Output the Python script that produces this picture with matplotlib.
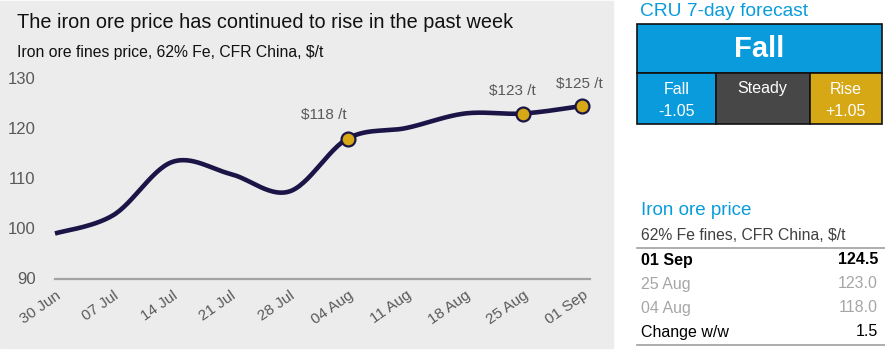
import numpy as np
import matplotlib
matplotlib.use("Agg")
import matplotlib.pyplot as plt
from matplotlib.patches import Rectangle
from matplotlib.lines import Line2D

plt.rcParams['font.family'] = ['Liberation Sans', 'DejaVu Sans']

# ---------------- data ----------------
dates = ["30 Jun", "07 Jul", "14 Jul", "21 Jul", "28 Jul",
         "04 Aug", "11 Aug", "18 Aug", "25 Aug", "01 Sep"]
prices = [99.0, 102.7, 113.3, 110.9, 107.4, 118.0, 120.1, 123.0, 123.0, 124.5]
marked_idx = [5, 8, 9]
marked_labels = ["$118 /t", "$123 /t", "$125 /t"]
yticks = [90, 100, 110, 120, 130]

forecast_title = "CRU 7-day forecast"
forecast_main = "Fall"
forecast_cells = [("Fall", "-1.05"), ("Steady", ""), ("Rise", "+1.05")]

table_title = "Iron ore price"
table_sub = "62% Fe fines, CFR China, $/t"
table_rows = [("01 Sep", "124.5"), ("25 Aug", "123.0"),
              ("04 Aug", "118.0"), ("Change w/w", "1.5")]

# ---------------- figure ----------------
W, H = 885, 356
fig = plt.figure(figsize=(W / 100, H / 100), dpi=100)


def fx(x):
    return x / W


def fy(y):
    return 1 - y / H


NAVY = "#1b1547"
GOLD = "#d6a815"
BLUE = "#0a9bdc"
DGRAY = "#474747"
TXT = "#595959"

# chart panel
fig.patches.append(Rectangle((0, fy(348)), fx(613), fy(1) - fy(348),
                             transform=fig.transFigure, color="#ececec", zorder=-10))

fig.text(fx(17), fy(22), "The iron ore price has continued to rise in the past week",
         fontsize=14.3, color="#111111", va="center", ha="left")
fig.text(fx(17), fy(52), "Iron ore fines price, 62% Fe, CFR China, $/t",
         fontsize=11.3, color="#111111", va="center", ha="left")

ax = fig.add_axes([fx(55), fy(278.5), fx(582) - fx(55), fy(78.5) - fy(278.5)])
ax.set_facecolor("none")
ax.set_xlim(0, len(dates) - 1)
ax.set_ylim(90, 130)
for s in ax.spines.values():
    s.set_visible(False)

# smooth curve (Catmull-Rom / Bezier like spreadsheet smoothing)
xs = np.arange(len(prices), dtype=float)
ys = np.array(prices, dtype=float)
P = np.column_stack([xs, ys])
Pp = np.vstack([P[0], P, P[-1]])
curve = []
t = np.linspace(0, 1, 30)
for i in range(len(P) - 1):
    p0, p1, p2, p3 = Pp[i], Pp[i + 1], Pp[i + 2], Pp[i + 3]
    c1 = p1 + (p2 - p0) / 6
    c2 = p2 - (p3 - p1) / 6
    seg = ((1 - t) ** 3)[:, None] * p1 + (3 * (1 - t) ** 2 * t)[:, None] * c1 \
        + (3 * (1 - t) * t ** 2)[:, None] * c2 + (t ** 3)[:, None] * p2
    curve.append(seg)
curve = np.vstack(curve)
ax.plot(curve[:, 0], curve[:, 1], color=NAVY, lw=3.3, solid_capstyle="butt",
        clip_on=False, zorder=3)

ax.plot(xs[marked_idx], ys[marked_idx], "o", ms=10, mfc=GOLD, mec=NAVY, mew=1.6,
        zorder=4, clip_on=False)
offsets = [(-17, 12), (-8, 11), (-2, 11)]
for i, lab, off in zip(marked_idx, marked_labels, offsets):
    ax.annotate(lab, (xs[i], ys[i]), xytext=off, textcoords="offset points",
                ha="center", va="bottom", fontsize=11, color=TXT)

ax.axhline(90, xmin=0, xmax=1.015, color="#a3a3a3", lw=1.6, clip_on=False, zorder=2)

ax.set_yticks(yticks)
ax.set_yticklabels([str(v) for v in yticks], fontsize=12, color=TXT)
ax.set_xticks(xs)
ax.set_xticklabels(dates, fontsize=11, color=TXT, rotation=35, ha="right",
                   rotation_mode="anchor")
ax.tick_params(axis="both", length=0)
ax.tick_params(axis="y", pad=14)
ax.tick_params(axis="x", pad=7)

# ---------------- forecast box ----------------
fig.text(fx(640), fy(12), forecast_title, fontsize=13.8, color=BLUE, va="center", ha="left")
bx0, bx1 = 637, 882
by0, bmid, by1 = 24, 73, 124
cx = [637, 715.5, 809.5, 882]
cell_colors = [BLUE, DGRAY, GOLD]
fig.patches.append(Rectangle((fx(bx0), fy(bmid)), fx(bx1) - fx(bx0), fy(by0) - fy(bmid),
                             transform=fig.transFigure, facecolor=BLUE,
                             edgecolor="#111111", lw=1.2, zorder=1))
fig.text(fx((bx0 + bx1) / 2), fy(49), forecast_main, fontsize=21, fontweight="bold",
         color="white", ha="center", va="center")
for j, (lab, val) in enumerate(forecast_cells):
    fig.patches.append(Rectangle((fx(cx[j]), fy(by1)), fx(cx[j + 1]) - fx(cx[j]),
                                 fy(bmid) - fy(by1), transform=fig.transFigure,
                                 facecolor=cell_colors[j], edgecolor="#111111", lw=1.2,
                                 zorder=1))
    xc = fx((cx[j] + cx[j + 1]) / 2)
    fig.text(xc, fy(89), lab, fontsize=11.5, color="white", ha="center", va="center")
    if val:
        fig.text(xc, fy(111), val, fontsize=11.5, color="white", ha="center", va="center")

# ---------------- price table ----------------
fig.text(fx(641), fy(211), table_title, fontsize=13.5, color=BLUE, va="center", ha="left")
fig.text(fx(641), fy(236), table_sub, fontsize=11.3, color="#404040", va="center", ha="left")
fig.add_artist(Line2D([fx(637), fx(885)], [fy(247.5), fy(247.5)],
                      transform=fig.transFigure, color="#a0a0a0", lw=1.2))
fig.add_artist(Line2D([fx(637), fx(885)], [fy(345), fy(345)],
                      transform=fig.transFigure, color="#a0a0a0", lw=1.2))
row_y = [260, 284, 308, 332]
row_styles = [("black", "bold"), ("#a6a6a6", "normal"), ("#a6a6a6", "normal"),
              ("black", "normal")]
for (lab, val), yy, (col, wt) in zip(table_rows, row_y, row_styles):
    fig.text(fx(641), fy(yy), lab, fontsize=11.5, color=col, fontweight=wt,
             va="center", ha="left")
    fig.text(fx(878), fy(yy), val, fontsize=11.5, color=col, fontweight=wt,
             va="center", ha="right")

fig.savefig("out.png", dpi=100)
